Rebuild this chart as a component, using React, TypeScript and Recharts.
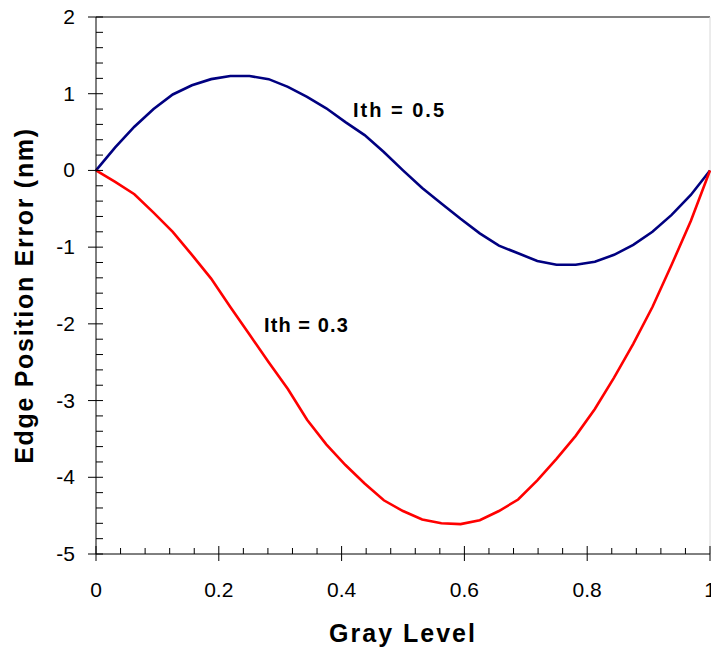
import { LineChart, Line, XAxis, YAxis, ReferenceLine, ReferenceDot, Label } from 'recharts';

const grayLevel = [
  0, 0.03125, 0.0625, 0.09375, 0.125, 0.15625, 0.1875, 0.21875, 0.25, 0.28125, 0.3125,
  0.34375, 0.375, 0.40625, 0.4375, 0.46875, 0.5, 0.53125, 0.5625, 0.59375, 0.625,
  0.65625, 0.6875, 0.71875, 0.75, 0.78125, 0.8125, 0.84375, 0.875, 0.90625, 0.9375,
  0.96875, 1,
];
const ith05 = [
  0, 0.3, 0.57, 0.8, 0.99, 1.11, 1.19, 1.23, 1.23, 1.19, 1.09, 0.96, 0.81, 0.63, 0.46,
  0.24, 0, -0.23, -0.43, -0.63, -0.82, -0.98, -1.08, -1.18, -1.23, -1.23, -1.19, -1.1,
  -0.97, -0.8, -0.58, -0.32, 0,
];
const ith03 = [
  0, -0.15, -0.31, -0.55, -0.8, -1.1, -1.41, -1.78, -2.14, -2.5, -2.85, -3.25, -3.57,
  -3.84, -4.08, -4.3, -4.44, -4.55, -4.6, -4.61, -4.56, -4.44, -4.29, -4.04, -3.76,
  -3.46, -3.11, -2.7, -2.26, -1.78, -1.23, -0.66, 0,
];

const xTicks = [
  0, 0.04, 0.08, 0.12, 0.16, 0.2, 0.24, 0.28, 0.32, 0.36, 0.4, 0.44, 0.48, 0.52, 0.56,
  0.6, 0.64, 0.68, 0.72, 0.76, 0.8, 0.84, 0.88, 0.92, 0.96, 1,
];
const yTicks = [
  -5, -4.8, -4.6, -4.4, -4.2, -4, -3.8, -3.6, -3.4, -3.2, -3, -2.8, -2.6, -2.4, -2.2,
  -2, -1.8, -1.6, -1.4, -1.2, -1, -0.8, -0.6, -0.4, -0.2, 0, 0.2, 0.4, 0.6, 0.8, 1,
  1.2, 1.4, 1.6, 1.8, 2,
];

const data = grayLevel.map((g, i) => ({ g, a: ith05[i], b: ith03[i] }));

const FONT = '"Liberation Sans", Arial, sans-serif';

function XTick({ x, y, payload }: any) {
  const v = payload.value;
  const major = Math.abs(v * 5 - Math.round(v * 5)) < 1e-6;
  if (!major) return <line x1={x} x2={x} y1={y - 6} y2={y} stroke="#000" />;
  return (
    <g>
      <line x1={x} x2={x} y1={y - 8} y2={y + 7} stroke="#000" />
      <text x={x} y={y + 43} textAnchor="middle" fontSize={21} fontFamily={FONT} fill="#000">
        {String(v)}
      </text>
    </g>
  );
}

function YTick({ x, y, payload }: any) {
  const v = payload.value;
  const major = Math.abs(v - Math.round(v)) < 1e-6;
  if (!major) return <line x1={x} x2={x + 7} y1={y} y2={y} stroke="#000" />;
  return (
    <g>
      <line x1={x - 8} x2={x + 7} y1={y} y2={y} stroke="#000" />
      <text x={x - 21} y={y + 7} textAnchor="end" fontSize={21} fontFamily={FONT} fill="#000">
        {String(Math.round(v))}
      </text>
    </g>
  );
}

function curveLabel(text: string, spacing: number) {
  return (props: any) => (
    <text
      x={props.viewBox.x}
      y={props.viewBox.y}
      fontSize={20}
      fontWeight="bold"
      letterSpacing={spacing}
      fontFamily={FONT}
      fill="#000"
    >
      {text}
    </text>
  );
}

export default function App() {
  return (
    <div style={{ position: 'absolute', left: 0, top: 0, width: 711, height: 649, overflow: 'hidden', background: '#fff' }}>
      <LineChart width={711} height={649} data={data} margin={{ top: 17, right: 1, bottom: 0, left: 0 }}>
        <XAxis
          dataKey="g"
          type="number"
          domain={[0, 1]}
          ticks={xTicks}
          interval={0}
          height={95}
          tickSize={0}
          tickMargin={0}
          tickLine={false}
          axisLine={{ stroke: '#000' }}
          tick={XTick}
        >
          <Label
            content={(p: any) => (
              <text
                x={p.viewBox.x + p.viewBox.width / 2}
                y={p.viewBox.y + 88}
                textAnchor="middle"
                fontSize={25}
                fontWeight="bold"
                letterSpacing={2}
                fontFamily={FONT}
                fill="#000"
              >
                Gray Level
              </text>
            )}
          />
        </XAxis>
        <YAxis
          type="number"
          domain={[-5, 2]}
          ticks={yTicks}
          interval={0}
          width={96}
          tickSize={0}
          tickMargin={0}
          tickLine={false}
          axisLine={{ stroke: '#000' }}
          tick={YTick}
        >
          <Label
            content={(p: any) => {
              const cy = p.viewBox.y + p.viewBox.height / 2 + 10;
              return (
                <text
                  x={33}
                  y={cy}
                  transform={`rotate(-90 33 ${cy})`}
                  textAnchor="middle"
                  fontSize={25}
                  fontWeight="bold"
                  letterSpacing={1.7}
                  fontFamily={FONT}
                  fill="#000"
                >
                  Edge Position Error (nm)
                </text>
              );
            }}
          />
        </YAxis>
        <ReferenceLine y={2} stroke="#808080" strokeWidth={2} />
        <ReferenceLine x={1} stroke="#d8d8d8" strokeWidth={1} />
        <Line
          type="linear"
          dataKey="a"
          stroke="#000080"
          strokeWidth={2.6}
          dot={false}
          isAnimationActive={false}
        />
        <Line
          type="linear"
          dataKey="b"
          stroke="#ff0000"
          strokeWidth={2.6}
          dot={false}
          isAnimationActive={false}
        />
        <ReferenceDot x={0.4186} y={0.7} r={0} fill="none" stroke="none" label={curveLabel('Ith = 0.5', 2)} />
        <ReferenceDot x={0.2736} y={-2.1} r={0} fill="none" stroke="none" label={curveLabel('Ith = 0.3', 1.1)} />
      </LineChart>
    </div>
  );
}
